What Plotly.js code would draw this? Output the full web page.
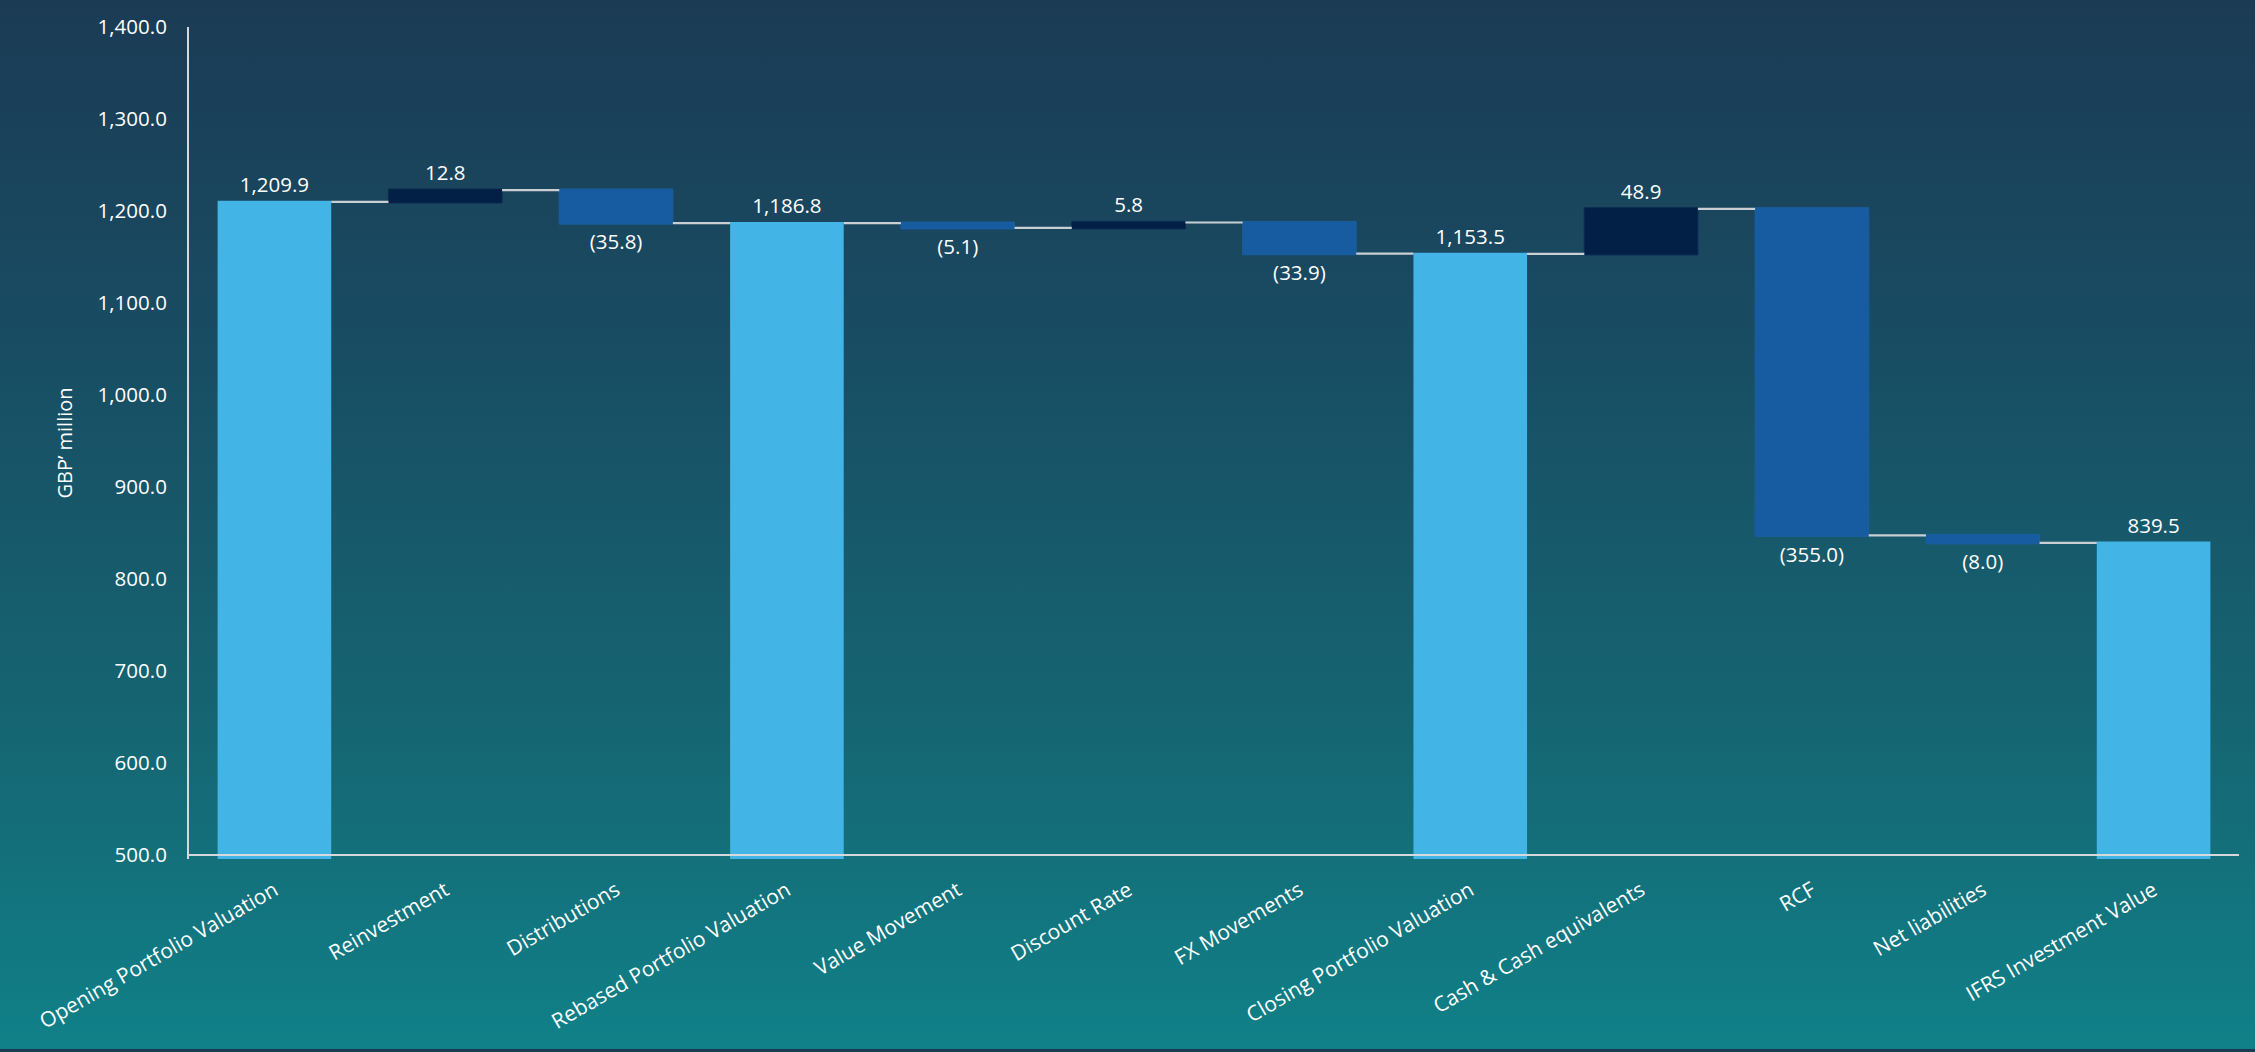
<!DOCTYPE html>
<html>
<head>
<meta charset="utf-8">
<script src="https://cdn.plot.ly/plotly-3.0.1.min.js"></script>
<style>
  html, body { margin: 0; padding: 0; width: 2255px; height: 1052px; overflow: hidden; }
  #wrap {
    position: relative; width: 2255px; height: 1052px;
    background: linear-gradient(180deg, #1b3b55 0%, #184e64 35%, #156673 70%, #108188 100%);
  }
  #strip { position: absolute; left: 0; bottom: 0; width: 2255px; height: 3px; background: #1c3a52; }
  #chart { position: absolute; left: 0; top: 0; width: 2255px; height: 1052px; }
</style>
</head>
<body>
<div id="wrap"><div id="chart"></div><div id="strip"></div></div>
<script>
const categories = [
  "Opening Portfolio Valuation", "Reinvestment", "Distributions", "Rebased Portfolio Valuation",
  "Value Movement", "Discount Rate", "FX Movements", "Closing Portfolio Valuation",
  "Cash & Cash equivalents", "RCF", "Net liabilities", "IFRS Investment Value"
];
const values = [1209.9, 12.8, -35.8, 1186.8, -5.1, 5.8, -33.9, 1153.5, 48.9, -355.0, -8.0, 839.5];
const measures = ["absolute", "relative", "relative", "absolute", "relative", "relative",
  "relative", "absolute", "relative", "relative", "relative", "absolute"];
const yTickValues = [500, 600, 700, 800, 900, 1000, 1100, 1200, 1300, 1400];

function fmt(v) {
  const s = Math.abs(v).toLocaleString("en-GB", {minimumFractionDigits: 1, maximumFractionDigits: 1});
  return v < 0 ? "(" + s + ")" : s;
}
const labels = values.map(fmt);

const FONT = "'Open Sans', 'Noto Sans', sans-serif";

const trace = {
  type: "waterfall",
  x: categories,
  y: values,
  measure: measures,
  text: labels,
  textinfo: "text",
  textposition: "outside",
  constraintext: "none",
  cliponaxis: true,
  outsidetextfont: {family: FONT, size: 20.5, color: "#ffffff"},
  increasing: {marker: {color: "#021f45", line: {color: "#0b2a52", width: 1}}},
  decreasing: {marker: {color: "#175ca0", line: {color: "#1a5f9f", width: 1}}},
  totals: {marker: {color: "#42b5e6", line: {width: 0}}},
  connector: {mode: "between", line: {color: "#c9cfd3", width: 2.2}},
  hoverinfo: "x+y"
};

const layout = {
  width: 2255, height: 1052,
  paper_bgcolor: "rgba(0,0,0,0)",
  plot_bgcolor: "rgba(0,0,0,0)",
  margin: {l: 189, r: 16, t: 27, b: 193},
  showlegend: false,
  waterfallgap: 0.335,
  font: {family: FONT, color: "#ffffff", size: 20},
  xaxis: {
    type: "category",
    tickangle: -30,
    tickfont: {family: FONT, size: 21, color: "#ffffff"},
    showline: false, showgrid: false, zeroline: false,
    ticks: "outside", ticklen: 10, tickcolor: "rgba(0,0,0,0)"
  },
  yaxis: {
    range: [495.7, 1400],
    tickvals: yTickValues,
    tickformat: ",.1f",
    tickfont: {family: FONT, size: 20.5, color: "#ffffff"},
    showgrid: false, zeroline: false,
    showline: true, linecolor: "#d5d9dc", linewidth: 2,
    ticks: "outside", ticklen: 16, tickcolor: "rgba(0,0,0,0)",
    title: {text: "GBP\u2019 million", font: {family: FONT, size: 20, color: "#ffffff"}, standoff: 20}
  },
  shapes: [{
    type: "line", xref: "paper", x0: 0, x1: 1, yref: "y", y0: 500, y1: 500,
    line: {color: "#d5d9dc", width: 2}, layer: "above"
  }]
};

Plotly.newPlot("chart", [trace], layout, {displayModeBar: false, staticPlot: true});
</script>
</body>
</html>
